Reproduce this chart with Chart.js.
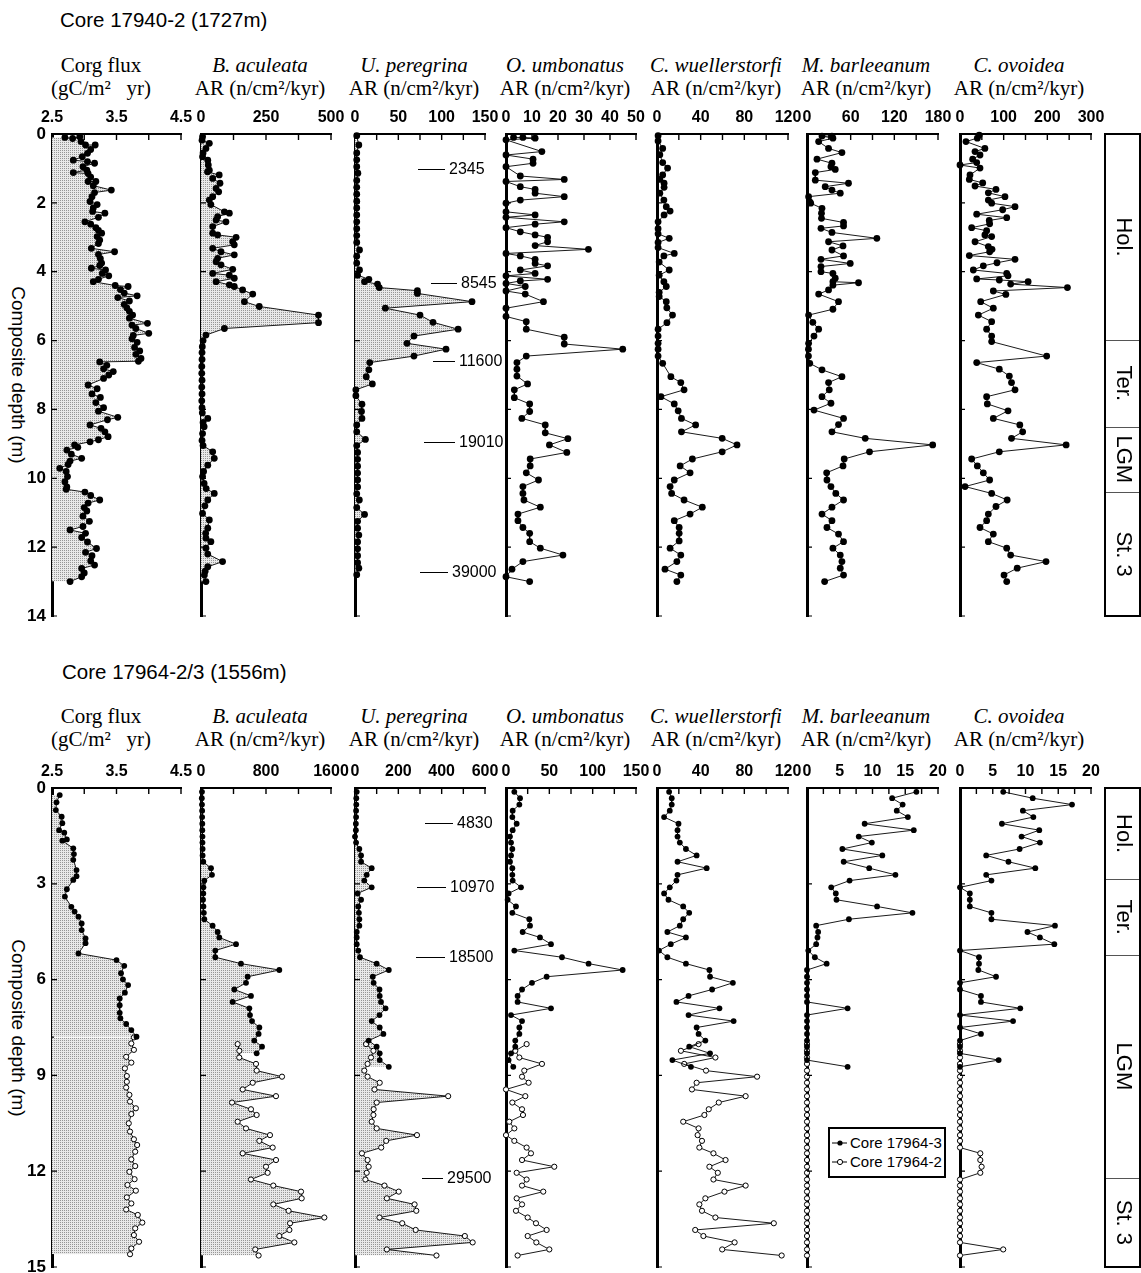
<!DOCTYPE html>
<html><head><meta charset="utf-8"><title>Benthic foraminifera accumulation rates</title>
<script src="https://cdn.jsdelivr.net/npm/chart.js@4.4.1/dist/chart.umd.min.js"></script>
<style>
html,body{margin:0;padding:0;background:#fff}
#wrap{position:relative;width:1141px;height:1273px;overflow:hidden;background:#fff;color:#000;font-family:"Liberation Sans",Arial,Helvetica,sans-serif}
.ptitle{position:absolute;font-size:20.5px;line-height:22px;white-space:nowrap}
.hdr{position:absolute;width:220px;text-align:center;font-family:"Liberation Serif","Times New Roman",serif;font-size:21px;line-height:23px;white-space:pre}
.ytitle{position:absolute;width:300px;height:20px;line-height:20px;text-align:center;font-size:19px;white-space:nowrap;transform-origin:0 0;transform:rotate(90deg)}
canvas{position:absolute}
.legend{position:absolute;border:2px solid #000;background:#fff}
.lrow{position:absolute;left:2px;height:18px;line-height:18px;font-size:15px;display:flex;align-items:center;white-space:nowrap}
.lrow svg{margin-right:2px}
</style></head>
<body><div id="wrap"></div>
<script>
// ---------------- DATA ----------------
// Core 17940-2 : [depth (m), value]
const TOP_CORG = [[0.10,2.70],[0.13,2.82],[0.08,2.93],[0.22,2.95],[0.32,3.02],[0.32,3.17],[0.45,3.10],[0.56,3.05],[0.66,2.97],[0.76,2.83],[0.80,3.05],[0.85,3.16],[0.95,2.98],[1.05,3.04],[1.12,2.83],[1.15,3.06],[1.25,3.10],[1.38,3.06],[1.38,3.18],[1.50,3.14],[1.63,3.42],[1.70,3.16],[1.82,3.12],[1.96,3.09],[2.05,3.20],[2.15,3.14],[2.25,3.13],[2.30,3.32],[2.42,3.22],[2.55,3.01],[2.62,3.10],[2.72,3.18],[2.80,3.22],[2.88,3.27],[2.98,3.20],[3.08,3.24],[3.18,3.22],[3.32,3.11],[3.42,3.47],[3.50,3.22],[3.62,3.25],[3.75,3.27],[3.82,3.24],[3.90,3.11],[3.95,3.33],[4.05,3.28],[4.12,3.38],[4.22,3.22],[4.29,3.14],[4.40,3.48],[4.43,3.68],[4.52,3.56],[4.62,3.62],[4.70,3.82],[4.75,3.52],[4.85,3.70],[4.95,3.62],[5.05,3.66],[5.15,3.70],[5.26,3.75],[5.35,3.70],[5.50,3.98],[5.55,3.74],[5.65,3.80],[5.79,4.00],[5.85,3.76],[5.95,3.74],[6.05,3.82],[6.20,3.78],[6.30,3.86],[6.40,3.80],[6.52,3.88],[6.60,3.84],[6.62,3.24],[6.72,3.35],[6.82,3.30],[6.90,3.45],[7.00,3.38],[7.10,3.30],[7.29,3.06],[7.40,3.20],[7.55,3.12],[7.65,3.25],[7.80,3.18],[7.95,3.30],[8.05,3.22],[8.23,3.52],[8.30,3.36],[8.45,3.09],[8.55,3.26],[8.65,3.32],[8.79,3.37],[8.88,3.22],[8.94,3.09],[9.03,2.85],[9.10,2.90],[9.18,2.73],[9.30,2.80],[9.42,2.96],[9.50,2.78],[9.60,2.75],[9.71,2.62],[9.80,2.72],[9.95,2.74],[10.10,2.70],[10.25,2.73],[10.32,2.72],[10.40,3.01],[10.50,3.10],[10.63,3.24],[10.72,3.06],[10.85,3.00],[10.95,3.04],[11.10,2.98],[11.25,3.08],[11.40,2.98],[11.50,2.78],[11.60,3.02],[11.72,2.96],[11.85,3.05],[12.04,3.19],[12.15,3.02],[12.25,3.12],[12.40,3.10],[12.52,3.16],[12.62,2.96],[12.75,3.00],[12.86,2.96],[13.00,2.78]];
const TOP_BAC = [[0.08,6],[0.18,4],[0.27,32],[0.42,19],[0.55,8],[0.66,6],[0.76,26],[0.90,28],[1.05,32],[1.10,25],[1.19,70],[1.29,45],[1.43,73],[1.58,58],[1.68,68],[1.82,45],[1.92,32],[2.05,38],[2.26,90],[2.30,109],[2.40,64],[2.50,58],[2.55,96],[2.69,45],[2.88,45],[2.93,64],[3.00,135],[3.13,122],[3.22,128],[3.32,45],[3.42,77],[3.51,128],[3.61,64],[3.71,58],[3.80,77],[3.93,122],[4.05,45],[4.10,109],[4.19,128],[4.29,58],[4.38,109],[4.43,128],[4.53,160],[4.65,199],[4.87,167],[5.01,224],[5.26,452],[5.48,452],[5.65,90],[5.84,19],[6.00,8],[6.18,5],[6.35,4],[6.55,4],[6.75,3],[6.95,3],[7.15,4],[7.35,3],[7.55,4],[7.75,3],[7.95,4],[8.10,5],[8.26,26],[8.38,8],[8.50,12],[8.70,6],[8.90,4],[9.05,8],[9.23,45],[9.42,51],[9.62,26],[9.80,10],[9.95,6],[10.15,12],[10.30,20],[10.44,51],[10.63,26],[10.80,15],[11.02,6],[11.21,32],[11.45,26],[11.60,18],[11.74,19],[11.84,38],[12.03,19],[12.20,26],[12.42,83],[12.57,26],[12.70,16],[12.81,13],[13.00,19]];
const TOP_UPER = [[0.05,2],[0.32,4.4],[0.55,2],[0.75,2],[0.95,2],[1.14,3.3],[1.35,2],[1.55,2],[1.75,2],[1.95,2],[2.15,2],[2.35,2],[2.55,2],[2.75,2],[2.95,2],[3.15,2],[3.37,5.2],[3.55,2],[3.75,2],[3.95,5.2],[4.10,3],[4.22,16],[4.29,11],[4.36,26],[4.46,28],[4.55,72],[4.63,72],[4.87,135],[5.06,35],[5.26,75],[5.47,90],[5.67,119],[5.87,68],[6.08,60],[6.25,105],[6.45,68],[6.64,17],[6.85,16],[7.05,13],[7.26,20],[7.43,1],[7.60,1],[7.85,8],[8.06,7.5],[8.26,8],[8.45,2],[8.65,2],[8.87,12],[9.05,2],[9.25,3],[9.45,3],[9.65,3],[9.85,3],[10.05,3],[10.25,3],[10.45,2],[10.63,5],[10.85,2],[11.05,11],[11.25,3],[11.45,3],[11.65,4.4],[11.85,3],[12.05,3],[12.25,3],[12.45,3],[12.61,4.4],[12.80,2]];
const TOP_OUMB = [[0.10,2.9],[0.10,6.5],[0.12,11.2],[0.17,0],[0.51,13.8],[0.61,0],[0.73,10.4],[0.85,10.4],[0.95,0],[1.22,5.5],[1.32,22.4],[1.38,0],[1.53,5.5],[1.61,11.2],[1.72,11.2],[1.82,22.4],[1.92,5.5],[2.01,0],[2.26,0],[2.35,11.2],[2.42,0],[2.55,22.4],[2.62,11.2],[2.72,0],[2.84,5.5],[2.93,11.2],[3.00,16],[3.13,16],[3.24,11.2],[3.35,31.7],[3.47,0],[3.54,5.5],[3.64,11.2],[3.76,11.2],[3.83,16],[3.95,5.5],[4.05,11.2],[4.12,0],[4.22,16],[4.27,5.5],[4.34,0],[4.43,7.4],[4.56,0],[4.65,7.4],[4.87,14.4],[5.06,0],[5.30,0],[5.45,7.8],[5.67,7.8],[5.90,22.4],[6.10,22.4],[6.25,44.9],[6.45,7.8],[6.64,4.2],[6.83,4.2],[7.03,4.2],[7.26,8.3],[7.43,3.2],[7.66,3.2],[7.84,9.1],[8.06,9.1],[8.26,6.1],[8.45,15.1],[8.68,15.1],[8.85,23.8],[9.03,16.7],[9.25,23.4],[9.44,9.3],[9.64,9.3],[9.84,7.8],[10.05,12.5],[10.24,6.5],[10.44,6.5],[10.63,6.9],[10.84,13.2],[11.04,4.6],[11.23,4.6],[11.43,6.5],[11.60,9.1],[11.84,9.1],[12.03,13.2],[12.23,21.9],[12.42,6.5],[12.64,2.3],[12.86,0],[13.00,9.1]];
const TOP_CWUE = [[0.05,1],[0.20,1],[0.42,5.2],[0.60,2.6],[0.83,5.2],[0.99,9.7],[1.19,5.2],[1.32,2.6],[1.43,6.5],[1.55,6.5],[1.72,2.6],[1.92,6.3],[2.11,8.5],[2.24,12],[2.35,6.5],[2.55,1],[2.75,1],[2.90,1],[3.03,11.2],[3.15,1],[3.30,1],[3.47,15.8],[3.54,6.3],[3.72,2],[3.95,11.2],[4.10,2],[4.29,6.3],[4.43,8.5],[4.60,2],[4.72,2],[4.87,8.5],[5.05,9],[5.26,14.2],[5.48,9.1],[5.67,1],[5.87,1],[6.08,1],[6.25,1],[6.45,1],[6.66,5.2],[7.05,12.7],[7.22,21.8],[7.43,24.8],[7.63,3.6],[7.84,15.8],[8.04,19.4],[8.26,22.4],[8.45,35.4],[8.65,22.4],[8.84,59.7],[9.03,73.3],[9.23,59.7],[9.44,32.4],[9.64,21.2],[9.84,30.3],[10.05,15.8],[10.24,12],[10.44,13.4],[10.63,24.8],[10.84,41.5],[11.04,30.3],[11.23,15.8],[11.43,20.3],[11.60,20.3],[11.82,20.3],[12.03,12],[12.23,21.8],[12.42,18.2],[12.64,7.3],[12.81,21.8],[13.00,18.2]];
const TOP_MBAR = [[0.06,34.3],[0.06,20.6],[0.12,35.6],[0.22,16],[0.42,29.6],[0.54,48],[0.73,13.7],[0.85,34.3],[0.95,32.9],[1.03,38.8],[1.12,11.4],[1.34,11.4],[1.43,57],[1.53,25],[1.63,34.3],[1.72,45.7],[1.82,2.2],[1.97,3.8],[2.01,5.1],[2.16,20.6],[2.30,19.9],[2.45,19.9],[2.57,50.2],[2.67,50.2],[2.74,19.2],[2.86,34.3],[3.03,96],[3.13,29.6],[3.25,49.5],[3.37,34.3],[3.54,50.2],[3.64,19.2],[3.76,59.4],[3.85,19.2],[4.00,19.2],[4.05,35.6],[4.19,38.8],[4.29,35.6],[4.32,70.8],[4.39,35.6],[4.53,29.6],[4.65,16],[4.87,43.3],[5.09,35.6],[5.26,2.2],[5.47,8],[5.67,16],[5.87,9.6],[6.08,2.2],[6.25,2],[6.45,2],[6.66,3.8],[6.85,20.6],[7.05,48],[7.22,29.6],[7.43,30.6],[7.63,20.6],[7.82,32.9],[8.02,9.6],[8.26,50.2],[8.44,43.3],[8.65,34.3],[8.84,80],[9.03,172.7],[9.23,85.9],[9.44,51.1],[9.64,49.5],[9.84,27],[10.05,27.4],[10.24,32.9],[10.44,39.6],[10.63,50.2],[10.84,34.3],[11.04,20.6],[11.23,34.3],[11.43,27.4],[11.62,43.3],[11.84,50.2],[12.03,35.6],[12.23,45.7],[12.42,48],[12.61,45.7],[12.81,50.2],[13.00,24.2]];
const TOP_COVO = [[0.03,44],[0.12,39.7],[0.22,13.7],[0.42,57],[0.51,34.4],[0.61,45.8],[0.73,29],[0.83,38.2],[0.90,0],[0.99,45.8],[1.19,22.9],[1.32,21.4],[1.42,52],[1.51,34.4],[1.61,82.4],[1.71,64.9],[1.82,103],[1.92,64.9],[2.01,72.5],[2.11,126],[2.20,97.7],[2.33,38.2],[2.43,107],[2.51,67],[2.61,67.9],[2.72,26.7],[2.81,61],[2.93,57],[2.98,72.5],[3.13,34.4],[3.27,64.9],[3.35,73.3],[3.42,67.9],[3.53,21.4],[3.64,126],[3.74,84.7],[3.83,53.4],[3.95,30.5],[4.05,107],[4.12,110],[4.21,38.2],[4.24,90],[4.29,156],[4.36,116],[4.46,246],[4.56,76.3],[4.66,105],[4.87,47.4],[5.06,76.3],[5.26,42],[5.45,72.5],[5.67,61],[5.87,72.5],[6.03,72.5],[6.45,198.5],[6.64,38.2],[6.83,90],[7.03,113],[7.22,118],[7.43,126],[7.63,61],[7.84,62.6],[8.04,110],[8.26,76.3],[8.45,137],[8.65,143.5],[8.84,118],[9.03,243],[9.23,90],[9.44,26.7],[9.64,39.7],[9.84,53.4],[10.05,67.9],[10.24,11.5],[10.44,72.5],[10.63,108],[10.82,82.4],[11.04,64.9],[11.23,61],[11.43,45.8],[11.62,76.3],[11.84,64.9],[12.03,107],[12.23,116],[12.42,197],[12.61,131],[12.81,100.8],[13.00,107]];

// Core 17964-2/3
const BOT_CORG_3 = [[0.22,2.62],[0.45,2.57],[0.69,2.56],[0.90,2.65],[1.10,2.66],[1.32,2.61],[1.40,2.69],[1.61,2.73],[1.65,2.66],[1.89,2.83],[2.07,2.84],[2.25,2.83],[2.57,2.88],[2.76,2.88],[2.88,2.83],[3.17,2.73],[3.40,2.70],[3.72,2.80],[3.87,2.85],[4.03,2.91],[4.24,2.96],[4.45,2.96],[4.71,3.02],[4.86,3.02],[5.18,2.91],[5.39,3.50],[5.57,3.62],[5.80,3.57],[5.99,3.60],[6.17,3.68],[6.41,3.63],[6.59,3.55],[6.80,3.55],[7.04,3.55],[7.21,3.56],[7.39,3.65],[7.58,3.73],[7.79,3.81]];
const BOT_CORG_2 = [[7.81,3.77],[8.00,3.73],[8.20,3.77],[8.42,3.65],[8.60,3.73],[8.78,3.63],[9.02,3.66],[9.20,3.66],[9.38,3.65],[9.61,3.70],[9.82,3.71],[10.03,3.80],[10.21,3.73],[10.50,3.69],[10.76,3.71],[11.00,3.77],[11.18,3.82],[11.39,3.79],[11.63,3.73],[11.84,3.79],[12.02,3.70],[12.25,3.78],[12.43,3.67],[12.61,3.80],[12.82,3.66],[13.01,3.73],[13.20,3.65],[13.37,3.83],[13.61,3.90],[13.79,3.79],[14.00,3.77],[14.21,3.85],[14.42,3.73],[14.60,3.71]];
// sample depths (m) of core 17964-3 and core 17964-2
const DEPTH_17964_3 = [0.12,0.32,0.52,0.71,0.91,1.12,1.32,1.52,1.71,1.91,2.11,2.31,2.51,2.72,2.90,3.11,3.30,3.50,3.71,3.91,4.11,4.31,4.51,4.68,4.89,5.09,5.30,5.50,5.70,5.91,6.10,6.31,6.51,6.70,6.90,7.11,7.30,7.50,7.70,7.91,8.10,8.31,8.52,8.73];
const DEPTH_17964_2 = [8.02,8.23,8.44,8.64,8.85,9.04,9.23,9.44,9.65,9.85,10.06,10.24,10.45,10.66,10.87,11.05,11.26,11.44,11.65,11.86,12.05,12.26,12.45,12.64,12.85,13.04,13.24,13.45,13.63,13.84,14.03,14.23,14.45,14.64];
const BAC_3  = [12,10,12,14,14,16,16,18,18,20,20,28,123,135,41,30,28,25,30,35,41,143,205,225,431,176,176,492,964,574,554,410,615,389,595,603,628,718,709,656,751,685];
const UPER_3 = [8,6,6,5,5,4,4,0,5,20,28,28,77,54,43,77,12,28,15,18,20,20,8,8,8,15,23,100,156,82,86,113,114,120,141,113,77,114,131,63,100,114,114,156];
const OUMB_3 = [9.6,16.2,15.4,7.7,7.3,12.3,7.7,4.6,5.8,7.3,5.8,4.6,7.3,7.3,7.7,17.3,3,1.9,11.5,7.3,26.9,27.7,19.2,39.2,51.9,9.6,64.6,95.3,134.6,46.9,30,18.5,13.4,13.4,51.9,5.8,18.5,15.4,15.4,10.7,10.7,5.8,3,8.4];
const CWUE_3 = [11.1,13.5,13.5,11.7,6.5,19.7,18.8,18.8,20.9,26.5,36.3,18.8,45.5,18.8,17.8,11.7,6.5,10.5,24,29.5,24,20.9,9.5,26.5,12.6,1.8,9.5,26.5,48,48.6,69.5,50.5,28.9,17.8,57.2,28.9,70.2,36.3,38.1,44.3,29.5,48.6,14.1,31.1];
const MBAR_3 = [16.7,13,14.6,13.7,15.4,8.8,16.3,7.9,9.9,5.4,11.5,5.6,9.5,13.5,6.5,3.7,4.4,4.5,10.7,16.1,6.4,1.4,1.7,1.6,1.4,0.2,1.2,3,0,0,0,0,0,0,6.2,0,0,0,0,0,0,0,0,6.2];
const COVO_3 = [6.6,11.1,17.1,9.6,11.2,6.4,12.1,9.4,12.2,9.1,4,7.4,11.5,4,4.8,0,1.5,1.5,1.5,4.8,4.8,14.5,10.3,12.2,14.4,0,2.9,2.9,2.8,5.5,0,0,3.2,3.2,9.2,0,8.1,0,3.2,0,0,0,5.9,0];
const BAC_2  = [451,472,471,677,685,997,636,513,923,382,615,685,451,554,849,718,882,513,923,800,820,615,890,1231,1239,890,1078,1518,1096,1088,964,1149,668,709];
const UPER_2 = [51,85,74,58,43,58,114,90,430,100,86,85,77,100,286,144,121,32,58,63,54,48,136,202,147,275,283,113,218,280,507,543,147,376];
const OUMB_2 = [23.8,10.7,15.4,41.5,21.1,18.5,26.1,0,22.3,7.3,18.5,19.6,3.8,9.6,0,9.6,23.8,28.8,18.5,55.7,12.3,23.8,18.5,43,12.3,18.5,11.5,25,34.6,46.9,25,35,50,13.4];
const CWUE_2 = [38.1,21.9,53.5,24.9,44.9,91.7,36.3,32,81.2,56.6,47.4,43.4,24,38.1,37.2,41.2,38.8,51.7,62.8,48,55.7,51.7,81.2,61.8,44.3,38.8,41.2,53.5,107,35,42.5,71.1,59.7,114.2];
const MBAR_2 = [0,0,0,0,0,0,0,0,0,0,0,0,0,0,0,0,0,0,0,0,0,0,0,0,0,0,0,0,0,0,0,0,0,0];
const COVO_2 = [0,0,0,0,0,0,0,0,0,0,0,0,0,0,0,0,0,3.1,3.1,3.3,3.1,0,0,0,0,0,0,0,0,0,0,0,6.6,0];

// tick labels and minor tick values
const TOP_XLABELS = [[2.5,3.5,4.5],[0,250,500],[0,50,100,150],[0,10,20,30,40,50],[0,40,80,120],[0,60,120,180],[0,100,200,300]];
const TOP_XMINOR  = [[3,3.5,4,4.5],[125,250,375,500],[25,50,75,100,125,150],[10,20,30,40,50],[20,40,60,80,100,120],[30,60,90,120,150,180],[50,100,150,200,250,300]];
const BOT_XLABELS = [[2.5,3.5,4.5],[0,800,1600],[0,200,400,600],[0,50,100,150],[0,40,80,120],[0,5,10,15,20],[0,5,10,15,20]];
const BOT_XMINOR  = [[3,3.5,4,4.5],[400,800,1200,1600],[100,200,300,400,500,600],[25,50,75,100,125,150],[20,40,60,80,100,120],[2.5,5,7.5,10,12.5,15,17.5,20],[2.5,5,7.5,10,12.5,15,17.5,20]];
const SPECIES = ['B. aculeata','U. peregrina','O. umbonatus','C. wuellerstorfi','M. barleeanum','C. ovoidea'];
const TOP_AGES = [['2345',1.02],['8545',4.33],['11600',6.59],['19010',8.95],['39000',12.72]];
const BOT_AGES = [['4830',1.09],['10970',3.11],['18500',5.30],['29500',12.21]];
const TOP_ZONES = [0,5.98,8.5,10.4,14];
const BOT_ZONES = [0,2.86,5.23,12.21,15];
const ZONE_NAMES = ['Hol.','Ter.','LGM','St. 3'];

// ---------------- LAYOUT ----------------
const COLS = [[52,181],[201,331],[355,485],[506,636],[657,788],[807,938],[960,1091]];
const HDR_CX = [101,260,414,565,716,866,1019];
const PANELS = [
  {T:134, B:616, ymax:14, ystep:2, title:'Core 17940-2 (1727m)', titleX:60, titleY:9, hdrY:54, ytX:28,
   xlabels:TOP_XLABELS, xminor:TOP_XMINOR, ages:TOP_AGES, ageX:[[418,445],[431,457],[433,455],[424,455],[420,448]], zones:TOP_ZONES, r:3.4, ro:3.4},
  {T:788, B:1267, ymax:15, ystep:3, title:'Core 17964-2/3 (1556m)', titleX:62, titleY:661, hdrY:705, ytX:28,
   xlabels:BOT_XLABELS, xminor:BOT_XMINOR, ages:BOT_AGES, ageX:[[425,453],[417,446],[416,445],[422,443]], zones:BOT_ZONES, r:2.9, ro:2.6}
];

Chart.defaults.font.family = '"Liberation Sans", Arial, Helvetica, sans-serif';
Chart.defaults.color = '#000';
const wrap = document.getElementById('wrap');
const zip = (d, v) => v.map((x, i) => [d[i], x]);

function addCanvas(left, top, w, h) {
  const c = document.createElement('canvas');
  c.width = w; c.height = h;
  c.style.left = left + 'px'; c.style.top = top + 'px';
  c.style.width = w + 'px'; c.style.height = h + 'px';
  wrap.appendChild(c);
  return c;
}
function addDiv(cls, left, top, html) {
  const d = document.createElement('div');
  d.className = cls; d.style.left = left + 'px'; d.style.top = top + 'px';
  d.innerHTML = html; wrap.appendChild(d); return d;
}
function stipple(ctx) {
  const p = document.createElement('canvas'); p.width = 2; p.height = 2;
  const g = p.getContext('2d');
  g.fillStyle = '#e9e9e9'; g.fillRect(0, 0, 2, 2);
  g.fillStyle = '#969696'; g.fillRect(0, 0, 1, 1);
  return ctx.createPattern(p, 'repeat');
}

const decor = {
  id: 'decor',
  afterDraw(chart, args, o) {
    const {ctx, chartArea: a} = chart;
    const x = chart.scales.x, y = chart.scales.y;
    ctx.save();
    ctx.strokeStyle = '#000'; ctx.fillStyle = '#000';
    if (o.xt) {
      ctx.lineWidth = 1.4; ctx.beginPath();
      o.xt.forEach(v => { const p = x.getPixelForValue(v); ctx.moveTo(p, a.top); ctx.lineTo(p, a.top + 6); });
      ctx.stroke();
    }
    if (o.yt) {
      ctx.lineWidth = 1.2; ctx.beginPath();
      o.yt.forEach(v => { const p = y.getPixelForValue(v); ctx.moveTo(a.left, p); ctx.lineTo(a.left + 5, p); });
      ctx.stroke();
    }
    if (o.ages) {
      ctx.font = '16px "Liberation Sans", Arial, sans-serif';
      ctx.textBaseline = 'middle'; ctx.textAlign = 'left'; ctx.lineWidth = 1;
      o.ages.forEach(([lab, d], i) => {
        const py = Math.round(y.getPixelForValue(d)) + 0.5;
        const [x1, x2] = o.ageX[i];
        ctx.beginPath(); ctx.moveTo(x1 - o.off, py); ctx.lineTo(x2 - o.off, py); ctx.stroke();
        ctx.fillText(lab, x2 - o.off + 4, py);
      });
    }
    if (o.zones) {
      const z = o.zones;
      const yt = y.getPixelForValue(z[0]), yb = y.getPixelForValue(z[z.length - 1]);
      ctx.strokeStyle = '#555'; ctx.lineWidth = 1;
      for (let i = 1; i < z.length - 1; i++) {
        const p = Math.round(y.getPixelForValue(z[i])) + 0.5;
        ctx.beginPath(); ctx.moveTo(a.left, p); ctx.lineTo(a.right, p); ctx.stroke();
      }
      ctx.strokeStyle = '#000'; ctx.lineWidth = 2;
      ctx.strokeRect(a.left + 1, yt, a.right - a.left - 2, yb - yt);
      ctx.font = '22px "Liberation Sans", Arial, sans-serif';
      ctx.textAlign = 'center'; ctx.textBaseline = 'middle';
      const cx = (a.left + a.right) / 2;
      o.names.forEach((n, i) => {
        const py = (y.getPixelForValue(z[i]) + y.getPixelForValue(z[i + 1])) / 2;
        ctx.save(); ctx.translate(cx + 1, py); ctx.rotate(Math.PI / 2); ctx.fillText(n, 0, 0); ctx.restore();
      });
    }
    ctx.restore();
  }
};

function subplot(P, col, series, opt) {
  const [L, R] = COLS[col];
  const first = col === 0;
  const yw = first ? 52 : 24, pr = 24, xh = 40, pb = 14;
  const left = L - yw, top = P.T - xh;
  const c = addCanvas(left, top, R - L + yw + pr, P.B - P.T + xh + pb);
  const ctx = c.getContext('2d');
  const pat = stipple(ctx);
  const labels = P.xlabels[col];
  const xmin = labels[0], xmax = labels[labels.length - 1];
  const yt = []; for (let v = P.ystep; v <= P.ymax; v += P.ystep) yt.push(v);
  const datasets = series.map(s => ({
    data: s.pts.map(([d, v]) => ({x: v, y: d})),
    borderColor: '#000', borderWidth: 0.9,
    pointRadius: s.open ? P.ro : P.r, pointHoverRadius: s.open ? P.ro : P.r,
    pointBackgroundColor: s.open ? '#fff' : '#000', pointBorderColor: '#000',
    pointBorderWidth: s.open ? 1 : 0,
    fill: s.fill ? {value: xmin} : false, backgroundColor: pat,
    tension: 0, clip: false
  }));
  new Chart(c, {
    type: 'line',
    data: {datasets},
    plugins: [decor],
    options: {
      responsive: false, animation: false, devicePixelRatio: 1, events: [],
      indexAxis: 'y',
      layout: {padding: {left: 0, right: pr, top: 0, bottom: pb}, autoPadding: false},
      plugins: {
        legend: {display: false}, tooltip: {enabled: false},
        filler: {drawTime: 'beforeDatasetsDraw'},
        decor: Object.assign({xt: P.xminor[col], yt: yt}, opt ? {ages: opt.ages, ageX: opt.ageX, off: left} : {})
      },
      scales: {
        x: {
          type: 'linear', position: 'top', min: xmin, max: xmax,
          grid: {display: false, drawTicks: false},
          border: {display: true, color: '#000', width: 2},
          ticks: {autoSkip: false, maxRotation: 0, minRotation: 0, padding: 7, color: '#000',
                  font: {size: 16, weight: 'bold'}, callback: v => String(v)},
          afterBuildTicks: s => { s.ticks = labels.map(v => ({value: v})); },
          afterFit: s => { s.height = xh; s.paddingLeft = 0; s.paddingRight = 0; }
        },
        y: {
          type: 'linear', reverse: true, min: 0, max: P.ymax,
          grid: {display: false, drawTicks: false},
          border: {display: true, color: '#000', width: 3},
          ticks: {display: first, stepSize: P.ystep, padding: 6, color: '#000', font: {size: 17, weight: 'bold'}},
          afterFit: s => { s.width = yw; s.paddingTop = 0; s.paddingBottom = 0; }
        }
      }
    }
  });
}

function zoneChart(P) {
  const L = 1090, R = 1141, xh = 40, pb = 14;
  const c = addCanvas(L, P.T - xh, R - L, P.B - P.T + xh + pb);
  new Chart(c, {
    type: 'line', data: {datasets: []}, plugins: [decor],
    options: {
      responsive: false, animation: false, devicePixelRatio: 1, events: [],
      layout: {padding: {left: 14, right: 0, top: xh, bottom: pb}, autoPadding: false},
      plugins: {legend: {display: false}, tooltip: {enabled: false}, decor: {zones: P.zones, names: ZONE_NAMES}},
      scales: {
        x: {type: 'linear', min: 0, max: 1, display: false},
        y: {type: 'linear', reverse: true, min: 0, max: P.ymax, display: false}
      }
    }
  });
}

function headers(P) {
  const l1 = ['Corg flux'].concat(SPECIES.map(s => '<i>' + s + '</i>'));
  const l2 = ['(gC/m\u00B2   yr)'].concat(SPECIES.map(() => 'AR (n/cm\u00B2/kyr)'));
  HDR_CX.forEach((cx, i) => addDiv('hdr', cx - 110, P.hdrY, l1[i] + '\n' + l2[i]));
  addDiv('ptitle', P.titleX, P.titleY, P.title);
  addDiv('ytitle', P.ytX, (P.T + P.B) / 2 - 150, 'Composite depth (m)');
}

// ---- top panel : core 17940-2
const T = PANELS[0];
headers(T);
const topSeries = [TOP_CORG, TOP_BAC, TOP_UPER, TOP_OUMB, TOP_CWUE, TOP_MBAR, TOP_COVO];
topSeries.forEach((pts, i) => subplot(T, i, [{pts, fill: i < 3}], i === 2 ? {ages: T.ages, ageX: T.ageX} : null));
zoneChart(T);

// ---- bottom panel : core 17964-3 (filled) and 17964-2 (open)
const Bp = PANELS[1];
headers(Bp);
const botFilled = [BOT_CORG_3, zip(DEPTH_17964_3, BAC_3), zip(DEPTH_17964_3, UPER_3), zip(DEPTH_17964_3, OUMB_3),
                   zip(DEPTH_17964_3, CWUE_3), zip(DEPTH_17964_3, MBAR_3), zip(DEPTH_17964_3, COVO_3)];
const botOpen = [BOT_CORG_2, zip(DEPTH_17964_2, BAC_2), zip(DEPTH_17964_2, UPER_2), zip(DEPTH_17964_2, OUMB_2),
                 zip(DEPTH_17964_2, CWUE_2), zip(DEPTH_17964_2, MBAR_2), zip(DEPTH_17964_2, COVO_2)];
botFilled.forEach((pts, i) => subplot(Bp, i, [
  {pts, fill: i < 3},
  {pts: botOpen[i], fill: i < 3, open: true}
], i === 2 ? {ages: Bp.ages, ageX: Bp.ageX} : null));
zoneChart(Bp);

// legend
const lg = addDiv('legend', 828, 1127, '');
lg.style.width = '114px'; lg.style.height = '47px';
lg.innerHTML =
  '<div class="lrow" style="top:5px"><svg width="16" height="10"><line x1="0" y1="5" x2="15" y2="5" stroke="#000" stroke-width="1"/><circle cx="8" cy="5" r="2.6" fill="#000"/></svg><span>Core 17964-3</span></div>' +
  '<div class="lrow" style="top:24px"><svg width="16" height="10"><line x1="0" y1="5" x2="15" y2="5" stroke="#000" stroke-width="1"/><circle cx="8" cy="5" r="2.6" fill="#fff" stroke="#000" stroke-width="1"/></svg><span>Core 17964-2</span></div>';
</script>
</body></html>
